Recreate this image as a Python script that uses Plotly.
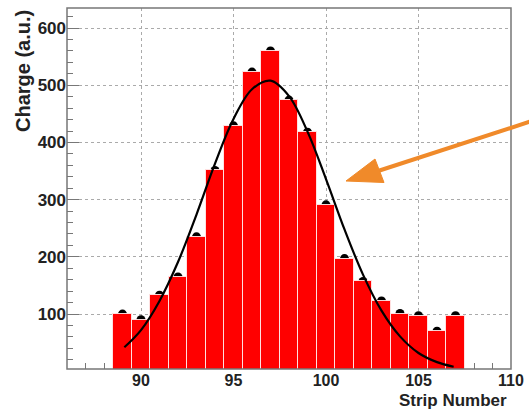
import plotly.graph_objects as go

# Histogram data (strip number vs charge)
strips = [89, 90, 91, 92, 93, 94, 95, 96, 97, 98, 99, 100, 101, 102, 103, 104, 105, 106, 107]
charge = [100, 90, 133, 165, 235, 351, 429, 523, 560, 474, 418, 291, 197, 157, 123, 101, 97, 70, 97]

# Fit curve
fit_x = [89.1, 90, 91, 92, 93, 94, 95, 96, 97, 98, 99, 100, 101, 102, 103, 104, 105, 106, 106.9]
fit_y = [42, 72, 123, 191, 274, 363, 441, 493, 508, 481, 419, 336, 248, 169, 106, 61, 32, 16, 8]

x_ticks = [90, 95, 100, 105, 110]
y_ticks = [100, 200, 300, 400, 500, 600]

W, H = 529, 414
ML, MR, MT, MB = 67, 18, 8, 45
PW, PH = W - ML - MR, H - MT - MB


def px(x):
    return (x - ML) / PW


def py(y):
    return (H - MB - y) / PH


fig = go.Figure()

# markers (drawn under the bars)
fig.add_trace(go.Scatter(x=strips, y=charge, mode="markers",
                         marker=dict(color="black", size=9),
                         yaxis="y", showlegend=False, hoverinfo="skip"))
# bars
fig.add_trace(go.Bar(x=strips, y=charge, width=1.0,
                     marker=dict(color="#ff0000", line=dict(color="rgba(255,235,235,0.9)", width=1)),
                     yaxis="y2", showlegend=False))
# fit curve
fig.add_trace(go.Scatter(x=fit_x, y=fit_y, mode="lines", line=dict(color="black", width=2.2, shape="spline"),
                         yaxis="y2", showlegend=False))

yr = [4, 635]
FONT = "Liberation Sans, Arial, sans-serif"

fig.update_layout(
    width=W, height=H,
    margin=dict(l=ML, r=MR, t=MT, b=MB, autoexpand=False),
    paper_bgcolor="white", plot_bgcolor="white",
    bargap=0,
    xaxis=dict(range=[86, 110], tickvals=x_ticks, ticks="inside", ticklen=12, tickcolor="#777",
               tickwidth=1, showgrid=True, gridcolor="#aaa", griddash="dot", gridwidth=1,
               minor=dict(dtick=1, tick0=0, ticks="inside", ticklen=6, tickcolor="#777", showgrid=False),
               tickfont=dict(family=FONT, size=16, color="#222", weight="bold"),
               showline=False, zeroline=False, layer="below traces", automargin=False),
    yaxis=dict(range=yr, tickvals=y_ticks, ticks="inside", ticklen=12, tickcolor="#777",
               tickwidth=1, showgrid=True, gridcolor="#aaa", griddash="dot", gridwidth=1,
               minor=dict(dtick=20, tick0=0, ticks="inside", ticklen=6, tickcolor="#777", showgrid=False),
               tickfont=dict(family=FONT, size=17, color="#222", weight="bold"),
               showline=False, zeroline=False, layer="below traces", automargin=False),
    yaxis2=dict(range=yr, overlaying="y", visible=False, showgrid=False, zeroline=False),
    shapes=[
        dict(type="rect", xref="paper", yref="paper", x0=0, x1=1, y0=0, y1=1,
             line=dict(color="#777", width=1.5), layer="above"),
        # arrow shaft
        dict(type="line", xref="paper", yref="paper", x0=px(532), y0=py(121), x1=px(378), y1=py(171),
             line=dict(color="#f08a2a", width=4), layer="above"),
        # arrow head
        dict(type="path", xref="paper", yref="paper",
             path=f"M {px(346)} {py(181)} L {px(375)} {py(159)} L {px(384)} {py(182.5)} Z",
             fillcolor="#f08a2a", line=dict(color="#f08a2a", width=1), layer="above"),
    ],
    annotations=[
        dict(text="Charge (a.u.)", xref="paper", yref="paper", x=px(23), y=1.0,
             xanchor="center", yanchor="top", textangle=-90, showarrow=False,
             font=dict(family=FONT, size=20, color="#222", weight="bold")),
        dict(text="Strip Number", xref="paper", yref="paper", x=px(509), y=py(400),
             xanchor="right", yanchor="middle", showarrow=False,
             font=dict(family=FONT, size=17, color="#222", weight="bold")),
    ],
)

fig.write_html("out.html", config={"displayModeBar": False},
               post_script="document.body.style.margin='0';document.body.style.overflow='hidden';")
